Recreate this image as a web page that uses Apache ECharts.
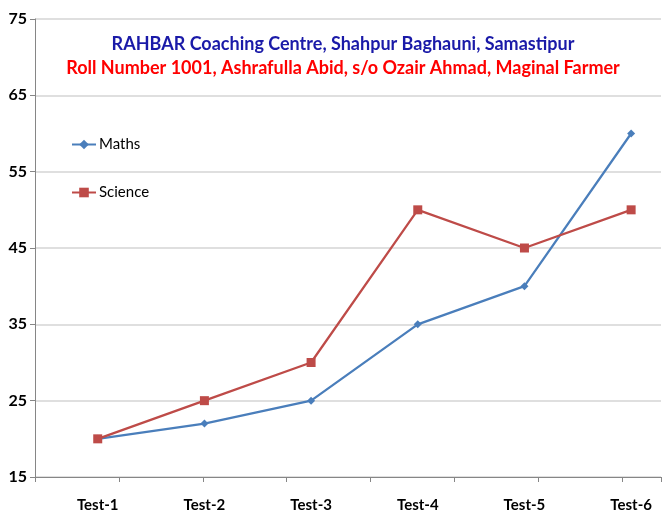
<!DOCTYPE html>
<html><head><meta charset="utf-8">
<script src="https://cdn.jsdelivr.net/npm/echarts@6/dist/echarts.min.js"></script>
<style>html,body{margin:0;padding:0;background:#fff}#c{width:664px;height:513px}</style>
</head><body><div id="c"></div>
<script>
const categories = ['Test-1','Test-2','Test-3','Test-4','Test-5','Test-6'];
const maths = [20, 22, 25, 35, 40, 60];
const science = [20, 25, 30, 50, 45, 50];
const yTicks = [15, 25, 35, 45, 55, 65, 75];
const title1 = 'RAHBAR Coaching Centre, Shahpur Baghauni, Samastipur';
const title2 = 'Roll Number 1001, Ashrafulla Abid, s/o Ozair Ahmad, Maginal Farmer';

const chart = echarts.init(document.getElementById('c'));
const font = 'Lato, "Open Sans", sans-serif';
chart.setOption({
  animation: false,
  backgroundColor: '#fff',
  title: [
    {text: title1, left: 338, top: 30, textAlign: 'center',
     textStyle: {color: '#1a1aa8', fontSize: 18, fontWeight: 'bold', fontFamily: font}},
    {text: title2, left: 338, top: 54, textAlign: 'center',
     textStyle: {color: '#ff0000', fontSize: 18, fontWeight: 'bold', fontFamily: font}}
  ],
  legend: {
    orient: 'vertical', left: 66, top: 132, itemGap: 33,
    itemWidth: 24, itemHeight: 12,
    textStyle: {color: '#000', fontSize: 15, fontFamily: font, padding: [0, 0, 0, -2]},
    data: ['Maths', 'Science']
  },
  grid: {left: 35, right: 0, top: 19, bottom: 36},
  xAxis: [{
    type: 'value', min: -0.588, max: 5.28,
    axisLine: {show: true, onZero: false, lineStyle: {color: '#868686', width: 1}},
    axisTick: {show: false},
    splitLine: {show: false},
    axisLabel: {
      margin: 21, color: '#000', fontSize: 15, fontWeight: 'bold', fontFamily: font,
      formatter: v => (Number.isInteger(v) && categories[v]) ? categories[v] : ''
    }
  }, {
    type: 'value', min: 0, max: 629 / 84.3, interval: 1, position: 'bottom',
    axisLine: {show: false, onZero: false}, axisLabel: {show: false}, splitLine: {show: false},
    axisTick: {show: true, length: 5, lineStyle: {color: '#868686'}}
  }],
  yAxis: {
    type: 'value', min: yTicks[0], max: yTicks[yTicks.length - 1], interval: 10,
    axisLine: {show: true, onZero: false, lineStyle: {color: '#868686', width: 1}},
    axisTick: {show: true, length: 5, lineStyle: {color: '#868686'}},
    splitLine: {lineStyle: {color: '#d4d4d4', width: 1.5}},
    axisLabel: {margin: 8, color: '#000', fontSize: 16, fontWeight: 'bold', fontFamily: font}
  },
  series: [
    {name: 'Maths', type: 'line', xAxisIndex: 0,
     data: maths.map((v, i) => [i, v]),
     symbol: 'diamond', symbolSize: 8,
     lineStyle: {color: '#4a7ebb', width: 2.25},
     itemStyle: {color: '#4a7ebb'}, color: '#4a7ebb'},
    {name: 'Science', type: 'line', xAxisIndex: 0,
     data: science.map((v, i) => [i, v]),
     symbol: 'rect', symbolSize: 9,
     lineStyle: {color: '#be4b48', width: 2.25},
     itemStyle: {color: '#be4b48'}, color: '#be4b48'}
  ]
});
</script></body></html>
